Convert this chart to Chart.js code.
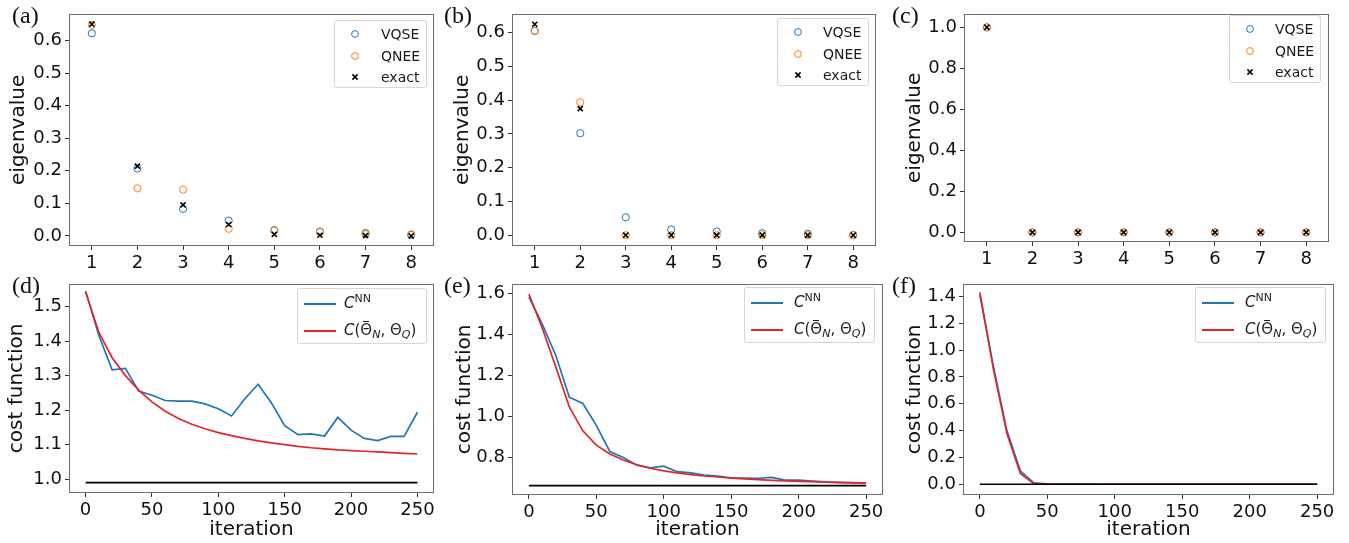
<!DOCTYPE html>
<html>
<head>
<meta charset="utf-8">
<script src="https://cdn.jsdelivr.net/npm/chart.js@4.4.1/dist/chart.umd.min.js"></script>
<style>
body { margin: 0; background: #fff; }
#fig { position: relative; width: 1349px; height: 543px; overflow: hidden; font-family: 'DejaVu Sans'; color: #111; }
.pane { position: absolute; }
.tag { position: absolute; font-family: 'Liberation Serif'; font-size: 24px; line-height: 24px; color: #111; }
.leg { position: absolute; border: 1px solid #d6d6d6; border-radius: 3px; background: rgba(255,255,255,0.85); box-sizing: border-box; font-size: 14px; color: #1a1a1a; }
.leg.ln { font-size: 15px; }
.leg .txt { position: absolute; white-space: nowrap; line-height: 18px; }
.leg .mk { position: absolute; }
.leg sup { font-size: 11px; vertical-align: 6px; line-height: 0; }
.leg sub { font-size: 11px; vertical-align: -3px; line-height: 0; font-style: italic; }
.bar { position: relative; display: inline-block; }
.bar::before { content: ''; position: absolute; left: 3px; right: 3px; top: 0px; border-top: 1px solid #1a1a1a; }
</style>
</head>
<body>
<div id="fig"></div>
<script>
// --- Données ---
const ranks = [1, 2, 3, 4, 5, 6, 7, 8];
const rankTicks = [1, 2, 3, 4, 5, 6, 7, 8];

const vqseA  = [0.622, 0.207, 0.083, 0.047, 0.018, 0.012, 0.006, 0.003];
const qneeA  = [0.648, 0.146, 0.142, 0.022, 0.016, 0.014, 0.010, 0.005];
const exactA = [0.650, 0.214, 0.095, 0.035, 0.005, 0.002, 0.001, 0.000];

const vqseB  = [0.605, 0.302, 0.053, 0.017, 0.011, 0.006, 0.004, 0.001];
const qneeB  = [0.606, 0.394, 0.000, 0.000, 0.000, 0.000, 0.000, 0.000];
const exactB = [0.625, 0.375, 0.000, 0.000, 0.000, 0.000, 0.000, 0.000];

const vqseC  = [1.000, 0.000, 0.000, 0.000, 0.000, 0.000, 0.000, 0.000];
const qneeC  = [1.000, 0.000, 0.000, 0.000, 0.000, 0.000, 0.000, 0.000];
const exactC = [1.000, 0.000, 0.000, 0.000, 0.000, 0.000, 0.000, 0.000];

const iters = [0, 10, 20, 30, 40, 50, 60, 70, 80, 90, 100, 110, 120, 130, 140, 150, 160, 170, 180, 190, 200, 210, 220, 230, 240, 250];
const iterTicks = [0, 50, 100, 150, 200, 250];
const baseEnds = [0, 250];

const cnnD = [1.545, 1.416, 1.317, 1.321, 1.255, 1.243, 1.228, 1.226, 1.226, 1.218, 1.204, 1.183, 1.233, 1.275, 1.221, 1.155, 1.129, 1.131, 1.125, 1.179, 1.142, 1.118, 1.112, 1.124, 1.124, 1.194];
const costD = [1.543, 1.425, 1.352, 1.300, 1.258, 1.224, 1.197, 1.176, 1.159, 1.146, 1.135, 1.126, 1.118, 1.111, 1.105, 1.100, 1.095, 1.091, 1.088, 1.085, 1.083, 1.081, 1.079, 1.077, 1.075, 1.073];
const exactCostD = 0.99;

const cnnE = [1.584, 1.449, 1.297, 1.093, 1.062, 0.955, 0.827, 0.798, 0.760, 0.747, 0.755, 0.728, 0.722, 0.712, 0.707, 0.698, 0.697, 0.696, 0.700, 0.687, 0.687, 0.682, 0.678, 0.676, 0.675, 0.674];
const costE = [1.598, 1.430, 1.240, 1.045, 0.928, 0.858, 0.815, 0.785, 0.762, 0.745, 0.732, 0.722, 0.714, 0.707, 0.702, 0.697, 0.693, 0.689, 0.686, 0.683, 0.681, 0.679, 0.677, 0.675, 0.673, 0.672];
const exactCostE = 0.66;

const cnnF = [1.410, 0.880, 0.400, 0.100, 0.010, 0.003, 0.002, 0.001, 0.001, 0.000, 0.000, 0.000, 0.000, 0.000, 0.000, 0.000, 0.000, 0.000, 0.000, 0.000, 0.000, 0.000, 0.000, 0.000, 0.000, 0.000];
const costF = [1.430, 0.860, 0.380, 0.080, 0.005, 0.001, 0.000, 0.000, 0.000, 0.000, 0.000, 0.000, 0.000, 0.000, 0.000, 0.000, 0.000, 0.000, 0.000, 0.000, 0.000, 0.000, 0.000, 0.000, 0.000, 0.000];
const exactCostF = 0.0;

const eigTicksAB = [0.0, 0.1, 0.2, 0.3, 0.4, 0.5, 0.6];
const eigTicksC = [0.0, 0.2, 0.4, 0.6, 0.8, 1.0];
const costTicksD = [1.0, 1.1, 1.2, 1.3, 1.4, 1.5];
const costTicksE = [0.8, 1.0, 1.2, 1.4, 1.6];
const costTicksF = [0.0, 0.2, 0.4, 0.6, 0.8, 1.0, 1.2, 1.4];

const BLUE = '#1f77b4', ORANGE = '#ff7f0e', RED = '#e0262b';
const LBL_CNN = '<i>C</i><sup>NN</sup>';
const LBL_COST = '<i>C</i>(<span class="bar">&Theta;</span><sub>N</sub>, &Theta;<sub>Q</sub>)';

// --- Cadre (spines matplotlib) ---
const framePlugin = {
    id: 'frame',
    afterDatasetsDraw(chart) {
        const a = chart.chartArea, c = chart.ctx;
        c.save();
        c.strokeStyle = '#6e6e6e';
        c.lineWidth = 1;
        c.strokeRect(Math.round(a.left) + 0.5, Math.round(a.top) + 0.5, Math.round(a.right - a.left) - 1, Math.round(a.bottom - a.top) - 1);
        c.restore();
    }
};

const fig = document.getElementById('fig');

function axis(min, max, ticks, size, fmt, title, titlePad, horizontal) {
    return {
        type: 'linear', min, max,
        afterBuildTicks: s => { s.ticks = ticks.map(v => ({ value: v })); },
        afterFit: s => { if (horizontal) s.height = size; else s.width = size; },
        grid: { drawOnChartArea: false, drawTicks: true, tickLength: 4, tickColor: '#333', lineWidth: 1 },
        border: { display: false },
        ticks: { color: '#111', font: { family: 'DejaVu Sans', size: 18 }, padding: 3, autoSkip: false, maxRotation: 0, callback: fmt },
        title: title ? { display: true, text: title, color: '#111', font: { family: 'DejaVu Sans', size: 20 }, padding: titlePad } : { display: false }
    };
}

function makePane(p) {
    const div = document.createElement('div');
    div.className = 'pane';
    div.style.left = p.left + 'px'; div.style.top = p.top + 'px';
    const cv = document.createElement('canvas');
    cv.width = p.w; cv.height = p.h;
    cv.style.width = p.w + 'px'; cv.style.height = p.h + 'px';
    div.appendChild(cv);
    fig.appendChild(div);

    new Chart(cv.getContext('2d'), {
        type: p.type,
        data: { datasets: p.datasets },
        options: {
            responsive: false,
            animation: false,
            layout: { padding: { left: 0, top: p.padTop, right: p.padRight, bottom: 0 } },
            plugins: { legend: { display: false }, tooltip: { enabled: false } },
            scales: {
                x: axis(p.xMin, p.xMax, p.xTicks, p.xH, p.xFmt, p.xTitle, { top: 0, bottom: 1 }, true),
                y: axis(p.yMin, p.yMax, p.yTicks, p.yW, v => v.toFixed(1), p.yTitle, { top: p.yTitlePad, bottom: 0 }, false)
            }
        },
        plugins: [framePlugin]
    });

    // étiquette de panneau
    const tag = document.createElement('div');
    tag.className = 'tag';
    tag.textContent = p.tag;
    tag.style.left = p.tagX + 'px'; tag.style.top = p.tagY + 'px';
    fig.appendChild(tag);
}

function scatterSets(v, q, e) {
    const pts = arr => ranks.map((x, i) => ({ x, y: arr[i] }));
    return [
        { label: 'VQSE', data: pts(v), pointStyle: 'circle', pointRadius: 3.6, borderWidth: 1, borderColor: BLUE, backgroundColor: 'rgba(0,0,0,0)', order: 3 },
        { label: 'QNEE', data: pts(q), pointStyle: 'circle', pointRadius: 3.6, borderWidth: 1, borderColor: ORANGE, backgroundColor: 'rgba(0,0,0,0)', order: 2 },
        { label: 'exact', data: pts(e), pointStyle: 'crossRot', pointRadius: 3.6, borderWidth: 1.6, borderColor: '#000', backgroundColor: '#000', order: 1 }
    ];
}

function lineSets(cnn, cost, base) {
    const pts = arr => iters.map((x, i) => ({ x, y: arr[i] }));
    return [
        { label: 'CNN', data: pts(cnn), borderColor: BLUE, borderWidth: 1.7, pointRadius: 0, tension: 0, order: 3 },
        { label: 'C', data: pts(cost), borderColor: RED, borderWidth: 1.7, pointRadius: 0, tension: 0, order: 2 },
        { label: 'exact', data: baseEnds.map(x => ({ x, y: base })), borderColor: '#000', borderWidth: 1.7, pointRadius: 0, order: 1 }
    ];
}

function svgCircle(color) {
    return `<svg width="10" height="10"><circle cx="5" cy="5" r="3.4" fill="none" stroke="${color}" stroke-width="1"/></svg>`;
}
function svgCross() {
    return `<svg width="10" height="10"><path d="M2.4 2.4 L7.6 7.6 M7.6 2.4 L2.4 7.6" stroke="#000" stroke-width="1.6"/></svg>`;
}
function svgLine(color) {
    return `<svg width="32" height="4"><line x1="0" y1="2" x2="32" y2="2" stroke="${color}" stroke-width="2"/></svg>`;
}

function legend(box, items, rowH, firstC, markX, textX, markW, markH, cls) {
    const d = document.createElement('div');
    d.className = 'leg' + (cls ? ' ' + cls : '');
    d.style.left = box[0] + 'px'; d.style.top = box[1] + 'px';
    d.style.width = box[2] + 'px'; d.style.height = box[3] + 'px';
    items.forEach((it, i) => {
        const cy = firstC + i * rowH;
        const m = document.createElement('div');
        m.className = 'mk';
        m.innerHTML = it.mark;
        m.style.left = (markX - markW / 2) + 'px';
        m.style.top = (cy - markH / 2) + 'px';
        m.style.height = markH + 'px';
        m.style.lineHeight = '0';
        d.appendChild(m);
        const t = document.createElement('div');
        t.className = 'txt';
        t.innerHTML = it.label;
        t.style.left = textX + 'px';
        t.style.top = (cy - 9) + 'px';
        d.appendChild(t);
    });
    fig.appendChild(d);
}

// --- Panneaux du haut ---
const fmtInt = v => String(v);
const fmtIter = v => String(v);

makePane({ tag: '(a)', tagX: 12, tagY: 3, left: 0, top: 0, w: 450, h: 270, type: 'scatter', datasets: scatterSets(vqseA, qneeA, exactA),
    padTop: 12, padRight: 16, yW: 69, xH: 24, xMin: 0.5, xMax: 8.5, xTicks: rankTicks, xFmt: fmtInt,
    yMin: -0.031, yMax: 0.682, yTicks: eigTicksAB, yTitle: 'eigenvalue', yTitlePad: 7 });
makePane({ tag: '(b)', tagX: 444, tagY: 3, left: 450, top: 0, w: 450, h: 270, type: 'scatter', datasets: scatterSets(vqseB, qneeB, exactB),
    padTop: 12, padRight: 24, yW: 62, xH: 24, xMin: 0.5, xMax: 8.5, xTicks: rankTicks, xFmt: fmtInt,
    yMin: -0.032, yMax: 0.656, yTicks: eigTicksAB, yTitle: 'eigenvalue', yTitlePad: 1 });
makePane({ tag: '(c)', tagX: 892, tagY: 3, left: 900, top: 0, w: 449, h: 270, type: 'scatter', datasets: scatterSets(vqseC, qneeC, exactC),
    padTop: 5, padRight: 20, yW: 64, xH: 28, xMin: 0.5, xMax: 8.5, xTicks: rankTicks, xFmt: fmtInt,
    yMin: -0.047, yMax: 1.066, yTicks: eigTicksC, yTitle: 'eigenvalue', yTitlePad: 3 });

// --- Panneaux du bas ---
makePane({ tag: '(d)', tagX: 12, tagY: 273, left: 0, top: 270, w: 450, h: 273, type: 'line', datasets: lineSets(cnnD, costD, exactCostD),
    padTop: 13, padRight: 16, yW: 69, xH: 50, xMin: -12.5, xMax: 262.5, xTicks: iterTicks, xFmt: fmtIter, xTitle: 'iteration',
    yMin: 0.96, yMax: 1.566, yTicks: costTicksD, yTitle: 'cost function', yTitlePad: 5 });
makePane({ tag: '(e)', tagX: 444, tagY: 273, left: 450, top: 270, w: 450, h: 273, type: 'line', datasets: lineSets(cnnE, costE, exactCostE),
    padTop: 8, padRight: 17, yW: 62, xH: 48, xMin: -12.5, xMax: 262.5, xTicks: iterTicks, xFmt: fmtIter, xTitle: 'iteration',
    yMin: 0.614, yMax: 1.648, yTicks: costTicksE, yTitle: 'cost function', yTitlePad: 3 });
makePane({ tag: '(f)', tagX: 892, tagY: 273, left: 900, top: 270, w: 449, h: 273, type: 'line', datasets: lineSets(cnnF, costF, exactCostF),
    padTop: 8, padRight: 15, yW: 63, xH: 48, xMin: -12.5, xMax: 262.5, xTicks: iterTicks, xFmt: fmtIter, xTitle: 'iteration',
    yMin: -0.08, yMax: 1.494, yTicks: costTicksF, yTitle: 'cost function', yTitlePad: 3 });

// --- Légendes ---
const scatterItems = [
    { mark: svgCircle(BLUE), label: 'VQSE' },
    { mark: svgCircle(ORANGE), label: 'QNEE' },
    { mark: svgCross(), label: 'exact' }
];
const lineItems = [
    { mark: svgLine(BLUE), label: LBL_CNN },
    { mark: svgLine(RED), label: LBL_COST }
];
legend([334, 20, 93, 68], scatterItems, 21.5, 13, 19.5, 46, 10, 10);
legend([777, 18, 92, 68], scatterItems, 21.5, 13, 19.5, 45, 10, 10);
legend([1229, 15, 92, 68], scatterItems, 21.5, 13, 19.5, 45, 10, 10);
legend([297, 288, 130, 56], lineItems, 26.5, 14, 21.5, 46, 32, 4, 'ln');
legend([744, 287, 131, 56], lineItems, 26.5, 14, 21.5, 49, 32, 4, 'ln');
legend([1195, 287, 131, 56], lineItems, 26.5, 14, 21.5, 49, 32, 4, 'ln');
</script>
</body>
</html>
